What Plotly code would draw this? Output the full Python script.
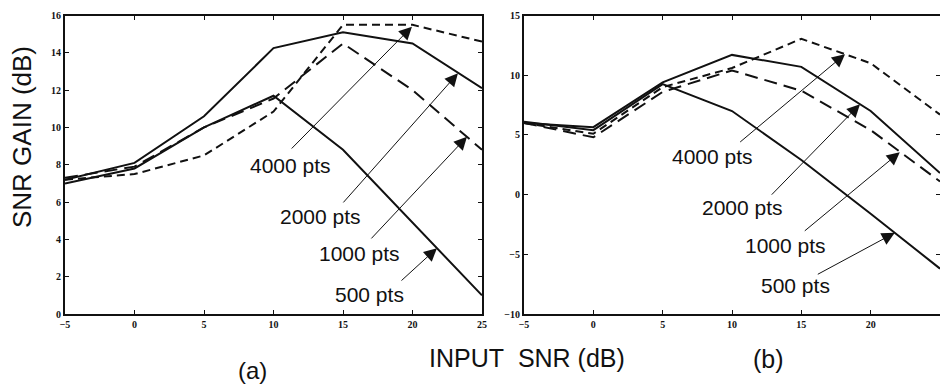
import plotly.graph_objects as go

# ---------------- data ----------------
snr = [-5, 0, 5, 10, 15, 20, 25]

# panel (a)
a_4000 = [7.2, 7.5, 8.5, 10.85, 15.5, 15.5, 14.6]
a_2000 = [7.2, 8.1, 10.6, 14.25, 15.1, 14.5, 12.1]
a_1000 = [7.3, 7.9, 10.0, 11.55, 14.5, 12.0, 8.8]
a_500 = [7.0, 7.8, 10.0, 11.7, 8.8, 4.9, 1.0]

# panel (b)
b_4000 = [6.0, 5.1, 9.0, 10.6, 13.05, 11.0, 6.7]
b_2000 = [6.0, 5.65, 9.4, 11.7, 10.7, 7.0, 1.8]
b_1000 = [6.0, 4.8, 8.6, 10.4, 8.7, 5.4, 1.1]
b_500 = [6.1, 5.4, 9.25, 7.0, 2.9, -1.6, -6.2]

x_ticks = [-5, 0, 5, 10, 15, 20, 25]
a_yticks = [0, 2, 4, 6, 8, 10, 12, 14, 16]
b_yticks = [-10, -5, 0, 5, 10, 15]

labels = ["4000 pts", "2000 pts", "1000 pts", "500 pts"]

# ---------------- figure ----------------
W, H = 940, 386
INK = "#111111"
styles = {
    "4000 pts": dict(color=INK, width=2, dash="8px,5px"),
    "2000 pts": dict(color=INK, width=2),
    "1000 pts": dict(color=INK, width=2, dash="13px,7px"),
    "500 pts": dict(color=INK, width=2),
}

fig = go.Figure()
for name, ys in zip(labels, [a_4000, a_2000, a_1000, a_500]):
    fig.add_trace(go.Scatter(x=snr, y=ys, mode="lines", line=styles[name],
                             xaxis="x", yaxis="y", showlegend=False, name=name))
for name, ys in zip(labels, [b_4000, b_2000, b_1000, b_500]):
    fig.add_trace(go.Scatter(x=snr, y=ys, mode="lines", line=styles[name],
                             xaxis="x2", yaxis="y2", showlegend=False, name=name))

tickfont = dict(family="Liberation Serif", size=10, color=INK, weight="bold")
ax_common = dict(showline=True, linecolor=INK, linewidth=2, mirror="ticks",
                 ticks="inside", ticklen=4, tickwidth=1.2, tickcolor=INK,
                 showgrid=False, zeroline=False, tickfont=tickfont,
                 automargin=False)

ydom = [(H - 314) / H, (H - 15.5) / H]
fig.update_layout(
    width=W, height=H,
    margin=dict(l=0, r=0, t=0, b=0, autoexpand=False),
    paper_bgcolor="white", plot_bgcolor="white",
    xaxis=dict(domain=[65 / W, 482 / W], range=[-5, 25], tickvals=x_ticks,
               anchor="y", **ax_common),
    yaxis=dict(domain=ydom, range=[0, 16], tickvals=a_yticks, anchor="x",
               **ax_common),
    xaxis2=dict(domain=[524 / W, 1.0], range=[-5, 25], tickvals=x_ticks,
                anchor="y2", **ax_common),
    yaxis2=dict(domain=ydom, range=[-10, 15], tickvals=b_yticks, anchor="x2",
                **ax_common),
)

lab_font = dict(family="Liberation Sans", size=21, color=INK)
ann = []

# label positions (data coords) and arrows (tip, tail) in data coords
a_text = {"4000 pts": (11.19, 7.94), "2000 pts": (13.35, 5.23),
          "1000 pts": (16.22, 3.24), "500 pts": (16.94, 1.05)}
a_arrow = {"4000 pts": ((19.96, 15.4), (11.2, 8.79)),
           "2000 pts": ((23.27, 12.9), (14.93, 5.9)),
           "1000 pts": ((23.92, 9.5), (16.94, 3.97)),
           "500 pts": ((21.76, 3.53), (19.1, 1.72))}
b_text = {"4000 pts": (8.62, 3.17), "2000 pts": (10.77, -1.10),
          "1000 pts": (13.85, -4.27), "500 pts": (14.57, -7.62)}
b_arrow = {"4000 pts": ((18.15, 11.76), (10.48, 4.3)),
           "2000 pts": ((19.23, 7.57), (12.76, -0.13)),
           "1000 pts": ((22.1, 3.55), (15.14, -3.14)),
           "500 pts": ((21.74, -3.2), (16.08, -6.74))}

for xr, yr, texts, arrows in [("x", "y", a_text, a_arrow), ("x2", "y2", b_text, b_arrow)]:
    for name in labels:
        tx, ty = texts[name]
        ann.append(dict(x=tx, y=ty, xref=xr, yref=yr, text=name, showarrow=False,
                        font=lab_font, xanchor="center", yanchor="middle"))
        (hx, hy), (sx, sy) = arrows[name]
        ann.append(dict(x=hx, y=hy, xref=xr, yref=yr, ax=sx, ay=sy,
                        axref=xr, ayref=yr, text="", showarrow=True,
                        arrowhead=2, arrowsize=2.6, arrowwidth=1,
                        arrowcolor=INK, standoff=0, startstandoff=0))

title_font = dict(family="Liberation Sans", size=26, color=INK)
ann.append(dict(x=22 / W, y=(H - 137) / H, xref="paper", yref="paper",
                text="SNR GAIN (dB)", textangle=-90, showarrow=False,
                font=title_font, xanchor="center", yanchor="middle"))
ann.append(dict(x=527 / W, y=(H - 358) / H, xref="paper", yref="paper",
                text="INPUT&nbsp;&nbsp;SNR (dB)", showarrow=False,
                font=dict(family="Liberation Sans", size=25, color=INK),
                xanchor="center", yanchor="middle"))
ann.append(dict(x=252 / W, y=(H - 370) / H, xref="paper", yref="paper",
                text="(a)", showarrow=False,
                font=dict(family="Liberation Sans", size=24, color=INK),
                xanchor="center", yanchor="middle"))
ann.append(dict(x=768 / W, y=(H - 359) / H, xref="paper", yref="paper",
                text="(b)", showarrow=False,
                font=dict(family="Liberation Sans", size=25, color=INK),
                xanchor="center", yanchor="middle"))

fig.update_layout(annotations=ann)
fig.write_html("out.html")
